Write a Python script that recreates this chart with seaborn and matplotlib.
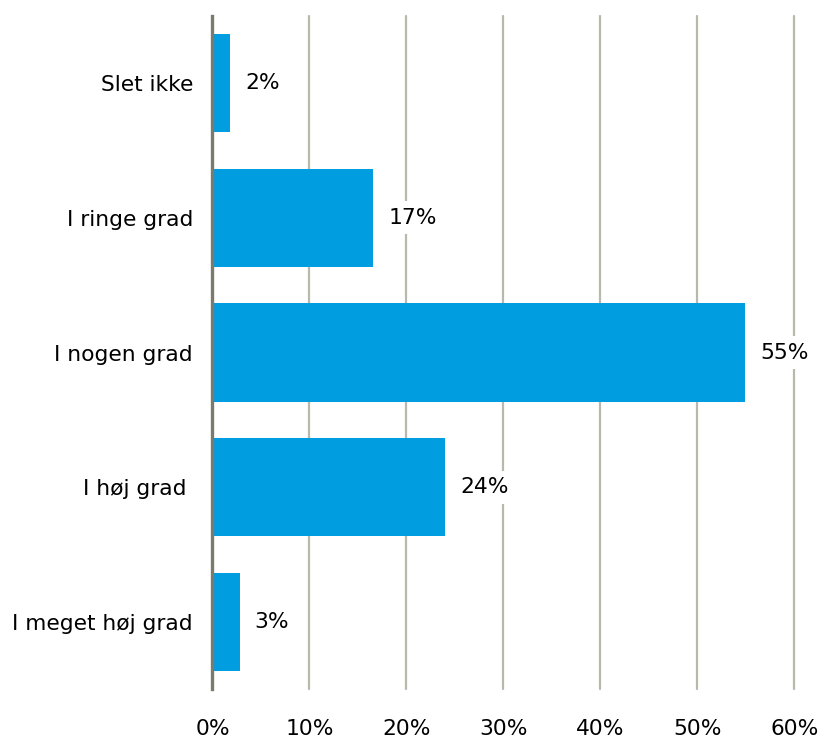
import matplotlib
matplotlib.use("Agg")
import matplotlib.pyplot as plt
import seaborn as sns
import pandas as pd

categories = ["Slet ikke", "I ringe grad", "I nogen grad", "I høj grad ", "I meget høj grad"]
shares = [1.8, 16.6, 54.9, 24.0, 2.8]
x_ticks = [0, 10, 20, 30, 40, 50, 60]
x_tick_labels = ["0%", "10%", "20%", "30%", "40%", "50%", "60%"]

df = pd.DataFrame({"kategori": categories, "andel": shares})

sns.set_theme(style="white")
plt.rcParams["font.family"] = ["DejaVu Sans"]

fig = plt.figure(figsize=(8.21, 7.37), dpi=100)
ax = fig.add_axes([0.2588, 0.0646, 0.9675 - 0.2588, 0.9788 - 0.0646])

bar_color = "#009EE0"
grid_color = "#b8b8ab"
axis_color = "#7a7a6d"

sns.barplot(data=df, x="andel", y="kategori", orient="h", color=bar_color,
            saturation=1, width=0.73, ax=ax, zorder=3, edgecolor="none")

ax.set_xlim(0, 60)
ax.set_ylim(4.5, -0.5)
ax.set_xticks(x_ticks)
ax.set_xticklabels(x_tick_labels)
for xv in x_ticks[1:]:
    ax.axvline(xv, color=grid_color, linewidth=1.6, zorder=1, clip_on=False)

for side in ["top", "right", "bottom"]:
    ax.spines[side].set_visible(False)
ax.spines["left"].set_color(axis_color)
ax.spines["left"].set_linewidth(2.4)
ax.spines["left"].set_zorder(4)

ax.set_xlabel("")
ax.set_ylabel("")
ax.tick_params(axis="x", length=0, pad=21, labelsize=15.7, labelcolor="black")
ax.tick_params(axis="y", length=0, pad=14, labelsize=15.7, labelcolor="black")

for i, v in enumerate(shares):
    ax.annotate(f"{v:.0f}%", xy=(v, i), xytext=(15, 0), textcoords="offset pixels",
                ha="left", va="center", fontsize=15.7, color="black", zorder=5,
                bbox=dict(boxstyle="square,pad=0.3", facecolor="white", edgecolor="none"))

fig.savefig("out.png", dpi=100)
